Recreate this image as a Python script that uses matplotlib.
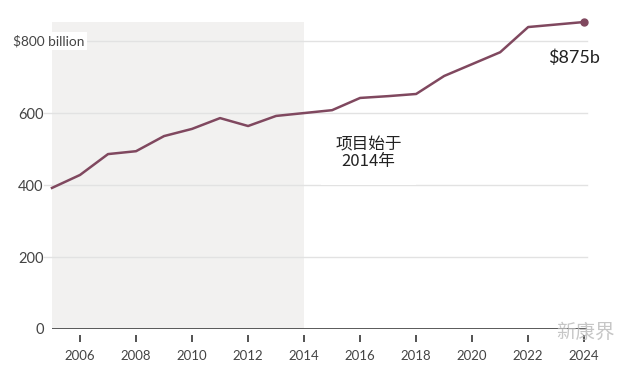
import matplotlib.pyplot as plt

# values (billion dollars)
years = [2005, 2006, 2007, 2008, 2009, 2010, 2011, 2012, 2013, 2014,
         2015, 2016, 2017, 2018, 2019, 2020, 2021, 2022, 2023, 2024]
values = [392, 428, 486, 494, 536, 556, 586, 564, 592, 600,
          608, 642, 647, 653, 703, 736, 769, 839, 846, 853]
xticks = [2006, 2008, 2010, 2012, 2014, 2016, 2018, 2020, 2022, 2024]
yticks = [0, 200, 400, 600, 800]
ylabels = ['0', '200', '400', '600', '']

plt.rcParams['font.family'] = ['Lato', 'Noto Sans CJK SC', 'DejaVu Sans']

fig = plt.figure(figsize=(6.28, 3.65), dpi=100)
ax = fig.add_axes([52 / 628, 1 - 329 / 365, (587 - 52) / 628, (329 - 22) / 365])

ax.set_xlim(2005, 2024.1)
ax.set_ylim(0, 853)

# shaded period before the project started
ax.axvspan(2005, 2014, color='#f2f1f0', zorder=0, lw=0)

# gridlines
for v in yticks[1:]:
    ax.axhline(v, color='#e2e2e2', lw=1, zorder=1, xmin=-0.015, clip_on=False)

ax.axhline(0, color='#4a4a4a', lw=2, zorder=3)

line_color = '#80485f'
ax.plot(years, values, color=line_color, lw=1.8, zorder=4, clip_on=False)
ax.plot(years[-1], values[-1], 'o', color=line_color, ms=5, zorder=5, clip_on=False)

ax.set_xticks(xticks)
ax.set_yticks(yticks)
ax.set_yticklabels(ylabels)
for s in ['top', 'right', 'left']:
    ax.spines[s].set_visible(False)
ax.spines['bottom'].set_visible(False)
ax.spines['bottom'].set_position(('outward', 4))
ax.tick_params(axis='x', length=5, width=1.3, color='#444444', pad=6,
               labelsize=9.5, labelcolor='#444444')
ax.tick_params(axis='y', length=0, pad=6, labelsize=10.5, labelcolor='#444444')

# top label sits over the plot, left aligned
ax.text(13 / 628, 800, '$800 billion', transform=ax.get_yaxis_transform().__class__(fig.transFigure, ax.transData),
        ha='left', va='center', fontsize=9.8, color='#444444', zorder=6,
        bbox=dict(facecolor='white', edgecolor='none', pad=2))

ax.text(2016.3, 489, '项目始于\n2014年', ha='center', va='center', fontsize=12,
        color='#222222', linespacing=1.0, family=['Noto Sans CJK SC', 'DejaVu Sans'],
        bbox=dict(facecolor='white', edgecolor='none', pad=10.5), zorder=6)

ax.text(2024.55, 755, '$875b', ha='right', va='center', fontsize=13, color='#222222',
        family=['Lato', 'DejaVu Sans'],
        bbox=dict(facecolor='white', edgecolor='none', pad=3), zorder=6)

# watermark
fig.text(585 / 628, 1 - 332 / 365, '新康界', ha='center', va='center', fontsize=14,
         color='#b8b8b8', alpha=0.8, family=['Noto Sans CJK SC', 'DejaVu Sans'])

fig.savefig('out.png', dpi=100)
